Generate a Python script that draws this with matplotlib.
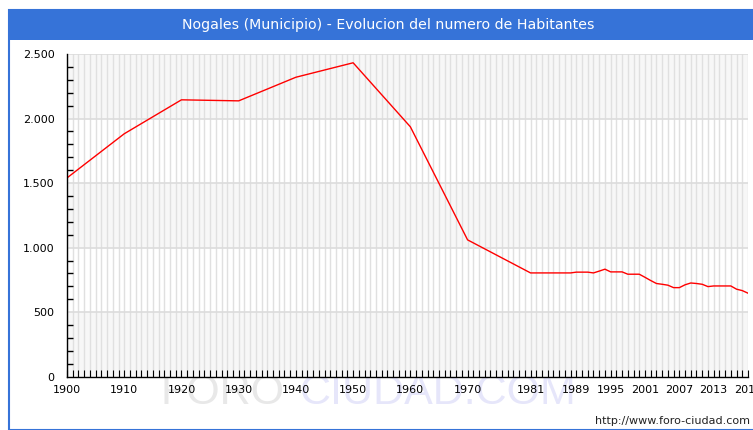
import matplotlib
matplotlib.use("Agg")
import matplotlib.pyplot as plt
from matplotlib.patches import Rectangle
from matplotlib.ticker import FuncFormatter, MultipleLocator

# population of Nogales by year
years = [1900, 1910, 1920, 1930, 1940, 1950, 1960, 1970, 1981, 1988,
         1989, 1990, 1991, 1992, 1993, 1994, 1995, 1996, 1997, 1998,
         1999, 2000, 2001, 2002, 2003, 2004, 2005, 2006, 2007, 2008,
         2009, 2010, 2011, 2012, 2013, 2014, 2015, 2016, 2017, 2018, 2019]
habitantes = [1540, 1882, 2145, 2137, 2320, 2432, 1936, 1060, 804, 804,
              810, 810, 810, 804, 818, 833, 812, 812, 812, 794,
              794, 794, 770, 745, 722, 716, 709, 690, 690, 712,
              726, 722, 716, 698, 703, 703, 703, 703, 678, 667, 647]
xtick_years = [1900, 1910, 1920, 1930, 1940, 1950, 1960, 1970, 1981,
               1989, 1995, 2001, 2007, 2013, 2019]
title = "Nogales (Municipio) - Evolucion del numero de Habitantes"

W, H = 753, 430
fig = plt.figure(figsize=(W / 100, H / 100), dpi=100)

# watermark behind everything
fig.text(160 / W, 1 - 393 / H, "FORO", color="#e8e8e8", fontsize=31,
         family="Liberation Sans", va="center", ha="left", zorder=-5)
fig.text(300 / W, 1 - 393 / H, "CIUDAD.COM", color="#e6e6fa", fontsize=31,
         family="Liberation Sans", va="center", ha="left", zorder=-5)

# frame and title bar
blue = "#3673d8"
fig.patches.append(Rectangle((9 / W, 0), 1, 1 - 10 / H, transform=fig.transFigure,
                             fill=False, edgecolor=blue, lw=1.5))
fig.patches.append(Rectangle((9 / W, 1 - 40 / H), 1, 30 / H, transform=fig.transFigure,
                             facecolor=blue, edgecolor="none"))
fig.text(388 / W, 1 - 25 / H, title, color="white", fontsize=10.2,
         ha="center", va="center", family="DejaVu Sans")

ax = fig.add_axes([67 / W, 1 - 376.7 / H, (748 - 67) / W, (376.7 - 54) / H])
ax.patch.set_alpha(0)
ax.set_xlim(1900, 2019)
ax.set_ylim(0, 2500)

# alternating bands
for lo in (0, 1000, 2000):
    ax.axhspan(lo, lo + 500, color="#f7f7f7", lw=0, zorder=0)
for yr in range(1900, 2020):
    ax.axvline(yr, color="#e0e0e0", lw=1, zorder=1)
for v in (500, 1000, 1500, 2000, 2500):
    ax.axhline(v, color="#dcdcdc", lw=1.2, zorder=1)

ax.plot(years, habitantes, color="#ff0000", lw=1, zorder=3)

for s in ("top", "right"):
    ax.spines[s].set_visible(False)
for s in ("left", "bottom"):
    ax.spines[s].set_color("black")
    ax.spines[s].set_linewidth(1)
    ax.spines[s].set_zorder(4)

ax.set_yticks([0, 500, 1000, 1500, 2000, 2500])
ax.yaxis.set_minor_locator(MultipleLocator(100))
ax.yaxis.set_major_formatter(FuncFormatter(lambda v, p: f"{int(v):,}".replace(",", ".")))
ax.tick_params(axis="y", which="major", length=0, pad=9, labelsize=8)
ax.tick_params(axis="y", which="minor", direction="in", length=4, width=1, color="black")

ax.set_xticks(xtick_years)
ax.set_xticklabels([str(y) for y in xtick_years])
ax.xaxis.set_minor_locator(MultipleLocator(1))
ax.tick_params(axis="x", which="both", direction="in", length=5, width=0.8,
               color="black", labelsize=8, pad=6)

fig.text(750 / W, 1 - 421 / H, "http://www.foro-ciudad.com", fontsize=8,
         ha="right", va="center", color="#222222")

fig.savefig("out.png", dpi=100)
